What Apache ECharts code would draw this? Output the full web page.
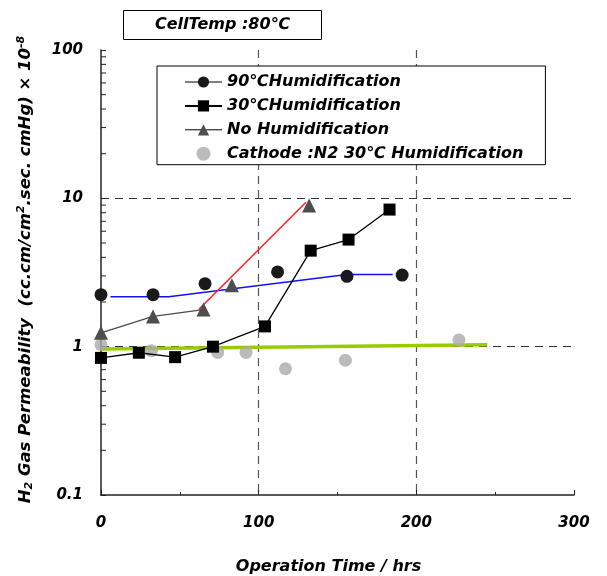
<!DOCTYPE html>
<html><head><meta charset="utf-8">
<script src="https://cdn.jsdelivr.net/npm/echarts@6/dist/echarts.min.js"></script>
<style>html,body{margin:0;padding:0;background:#fff;}#c{width:607px;height:576px;}</style>
</head><body><div id="c"></div>
<script>
// ---- data ----
const xTicks = [0, 100, 200, 300];
const yTicks = [0.1, 1, 10, 100];
const yMinorTicks = [0.2,0.3,0.4,0.5,0.6,0.7,0.8,0.9,2,3,4,5,6,7,8,9,20,30,40,50,60,70,80,90];

const hum90X = [0, 33, 66, 112, 156, 191];
const hum90Y = [2.24, 2.24, 2.66, 3.19, 2.98, 3.04];
const hum30X = [0, 24, 47, 71, 104, 133, 157, 183];
const hum30Y = [0.84, 0.91, 0.85, 1.0, 1.37, 4.44, 5.27, 8.4];
const noHumX = [0, 33, 65, 83, 132];
const noHumY = [1.24, 1.6, 1.78, 2.59, 8.93];
const noHumLinked = [1, 1, 0, 0];
const cathX = [0, 32, 74, 92, 117, 155, 227];
const cathY = [1.03, 0.94, 0.915, 0.915, 0.71, 0.81, 1.11];

const trend90X = [6, 43, 156, 185];
const trend90Y = [2.17, 2.17, 3.07, 3.07];
const trendNoHumX = [62, 130];
const trendNoHumY = [1.78, 9.4];
const trendCathX = [0, 245];
const trendCathY = [0.965, 1.03];

const names = ['90℃Humidification', '30℃Humidification', 'No Humidification', 'Cathode :N2 30℃ Humidification'];

// ---- build ----
const zip = (xs, ys) => xs.map((x, i) => [x, ys[i]]);
const noHumData = [];
noHumX.forEach((x, i) => {
  noHumData.push([x, noHumY[i]]);
  if (i < noHumLinked.length && !noHumLinked[i]) noHumData.push([(x + noHumX[i + 1]) / 2, '-']);
});

const FONT = 'DejaVu Sans';
const txt = { fontFamily: FONT, fontWeight: 'bold', fontStyle: 'italic', color: '#000' };

const chart = echarts.init(document.getElementById('c'), null, { renderer: 'canvas' });
chart.setOption({
  animation: false,
  backgroundColor: '#fff',
  title: {
    text: 'CellTemp :80℃',
    left: 123, top: 10,
    padding: [6, 32, 6, 32],
    borderColor: '#000', borderWidth: 1,
    textStyle: Object.assign({}, txt, { fontSize: 16, lineHeight: 18 })
  },
  legend: {
    left: 157, top: 66,
    orient: 'vertical',
    padding: [8, 22, 3, 27],
    itemGap: 7.9,
    itemWidth: 37, itemHeight: 14,
    borderColor: '#000', borderWidth: 1,
    backgroundColor: '#fff',
    textStyle: Object.assign({}, txt, { fontSize: 16 }),
    data: [
      { name: names[0], lineStyle: { opacity: 1, width: 1, color: '#000' } },
      { name: names[1] },
      { name: names[2], lineStyle: { color: '#000', width: 1 } },
      { name: names[3], icon: 'circle' }
    ]
  },
  grid: { left: 101, right: 33, top: 50, bottom: 81, containLabel: false, outerBoundsMode: 'none' },
  xAxis: {
    type: 'value', min: 0, max: 300, interval: 100,
    name: 'Operation Time / hrs',
    nameLocation: 'middle', nameGap: 64,
    nameTextStyle: Object.assign({}, txt, { fontSize: 16, padding: [0, 18, 0, 0] }),
    axisLine: { show: true, lineStyle: { color: '#222', width: 1.5 } },
    axisTick: { show: true, inside: true, length: 5, lineStyle: { color: '#222' } },
    minorTick: { show: true, splitNumber: 2, length: 3, lineStyle: { color: '#222' } },
    axisLabel: Object.assign({}, txt, { fontSize: 15, margin: 21, formatter: v => xTicks.includes(v) ? String(v) : '' }),
    splitLine: { show: true, showMinLine: false, showMaxLine: false, lineStyle: { color: '#555', type: [8, 6], width: 1.2 } }
  },
  yAxis: {
    type: 'log', logBase: 10, min: 0.1, max: 100,
    name: '{sub|}',
    nameLocation: 'middle', nameGap: 66, nameRotate: 90,
    nameTextStyle: Object.assign({}, txt, {
      fontSize: 16.5,
      padding: [0, 0, 0, 6],
      rich: {
        b: Object.assign({}, txt, { fontSize: 16.5 }),
        sub: Object.assign({}, txt, { fontSize: 11, verticalAlign: 'bottom', padding: [8, 0, 0, 0] }),
        sup: Object.assign({}, txt, { fontSize: 11, verticalAlign: 'top', padding: [0, 0, 8, 0] })
      }
    }),
    axisLine: { show: true, lineStyle: { color: '#222', width: 1.5 } },
    axisTick: { show: true, inside: true, length: 5, lineStyle: { color: '#222' } },
    axisLabel: Object.assign({}, txt, { fontSize: 15, margin: 18, formatter: v => yTicks.some(t => Math.abs(t - v) < 1e-9) ? String(v) : '' }),
    splitLine: { show: true, showMinLine: false, showMaxLine: false, lineStyle: { color: '#333', type: [8, 6], width: 1.2 } }
  },
  series: [
    {
      type: 'custom', name: 'minorY', silent: true, clip: false, z: 1,
      data: yMinorTicks.map(v => [0, v]),
      encode: { x: 0, y: 1 },
      renderItem: (params, api) => {
        const p = api.coord([0, api.value(1)]);
        return { type: 'line', shape: { x1: p[0], y1: p[1], x2: p[0] + 5, y2: p[1] }, style: { stroke: '#222', lineWidth: 1 } };
      }
    },
    { type: 'line', name: 'trend90', data: zip(trend90X, trend90Y), symbol: 'none', lineStyle: { color: '#1010ff', width: 1.5 }, z: 2 },
    { type: 'line', name: 'trendNoHum', data: zip(trendNoHumX, trendNoHumY), symbol: 'none', lineStyle: { color: '#ff2020', width: 1.5 }, z: 2 },
    { type: 'line', name: 'trendCath', data: zip(trendCathX, trendCathY), symbol: 'none', lineStyle: { color: '#99cc00', width: 3.5 }, z: 2 },
    {
      type: 'scatter', name: names[3], data: zip(cathX, cathY), symbol: 'circle', symbolSize: 13,
      itemStyle: { color: '#aaaaaa' }, z: 3
    },
    {
      type: 'line', name: names[0], data: zip(hum90X, hum90Y), symbol: 'circle', symbolSize: 13,
      itemStyle: { color: '#1a1a1a' }, lineStyle: { opacity: 0, color: '#000' }, z: 4
    },
    {
      type: 'line', name: names[1], data: zip(hum30X, hum30Y), symbol: 'rect', symbolSize: 12,
      itemStyle: { color: '#000' }, lineStyle: { color: '#000', width: 1.3 }, z: 4
    },
    {
      type: 'line', name: names[2], data: noHumData, symbol: 'triangle', symbolSize: 14, connectNulls: false,
      itemStyle: { color: '#4d4d4d' }, lineStyle: { color: '#4d4d4d', width: 1.3 }, z: 4
    }
  ]
});
// y axis name with rich text
chart.setOption({
  yAxis: { name: '{b|H}{sub|2}{b| Gas Permeability  (cc.cm/cm}{sup|2}{b|.sec. cmHg) × 10}{sup|-8}' }
});
</script></body></html>
